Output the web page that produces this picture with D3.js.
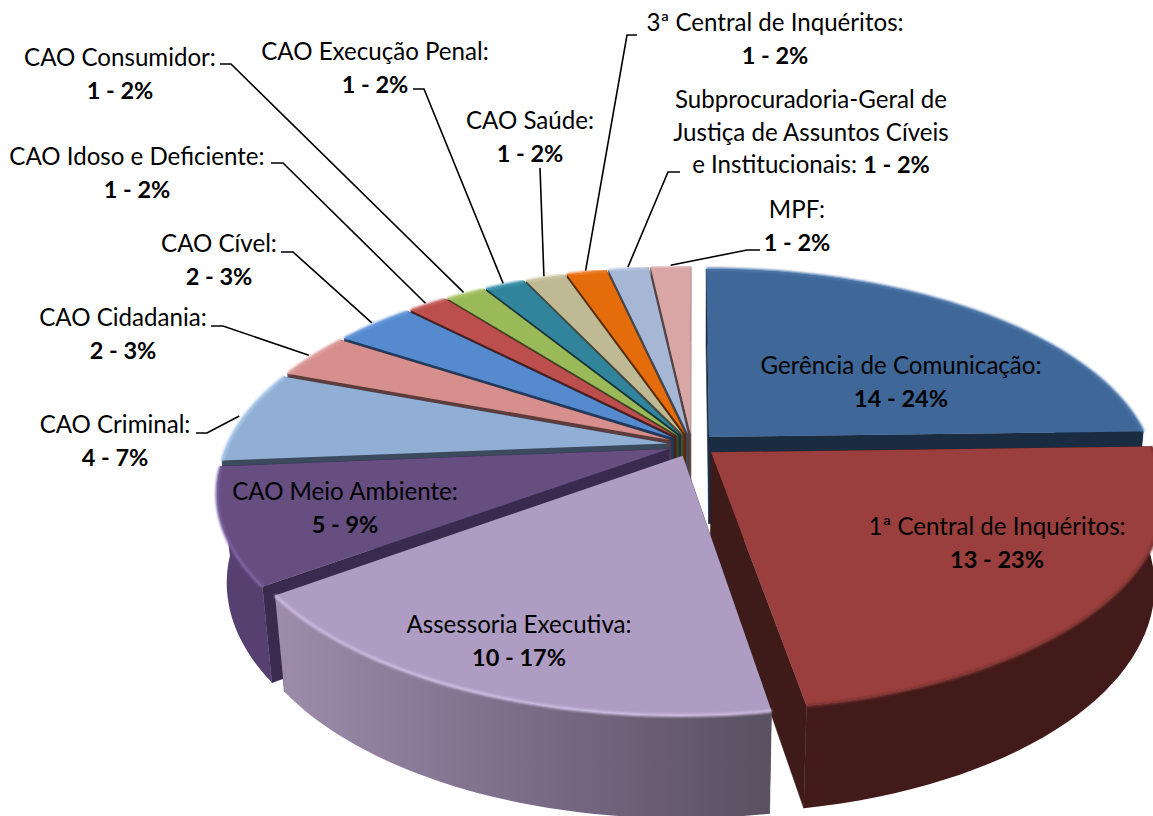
<!DOCTYPE html>
<html><head><meta charset="utf-8">
<script src="https://cdn.jsdelivr.net/npm/d3@7/dist/d3.min.js"></script>
<style>html,body{margin:0;padding:0;background:#fff}svg{display:block}text{font-family:Lato,"Open Sans",sans-serif;font-size:24.1px;fill:#000}</style>
</head><body><svg id="c" width="1153" height="816"></svg>
<script>
const categories = ["Gerência de Comunicação:","1ª Central de Inquéritos:","Assessoria Executiva:","CAO Meio Ambiente:","CAO Criminal:","CAO Cidadania:","CAO Cível:","CAO Idoso e Deficiente:","CAO Consumidor:","CAO Execução Penal:","CAO Saúde:","3ª Central de Inquéritos:","Subprocuradoria-Geral de Justiça de Assuntos Cíveis e Institucionais:","MPF:"];
const counts = [14,13,10,5,4,2,2,1,1,1,1,1,1,1];
const percents = [24,23,17,9,7,3,3,2,2,2,2,2,2,2];
const topColors = ["#3F6797","#9A3F3D","#AE9CC3","#664E80","#91AFD5","#D68F8D","#558ACF","#BC4F4D","#9ABA59","#31849B","#BFBA94","#E46C0A","#A6B6D5","#D9A6A5"];
const wallColors = ["#1A2C42","#3E1A18","#4A3F55","#3A2A4E","#3B4A5D","#5E3C3C","#1F3A5F","#4A1F1E","#3D4A24","#14353E","#4D4A3B","#5B2B04","#424955","#574242"];
const outerColors = ["#1A2C42","#421A19","url(#lavWall)","#56406F","#3B4A5D","#5E3C3C","#1F3A5F","#4A1F1E","#3D4A24","#14353E","#4D4A3B","#5B2B04","#424955","#574242"];
const rimColors = ["#4F79AD","#7A3330","#CDBDE2","#7C64A2","#AECBEC","#E0A3A1","#6C9CDC","#C96664","#AECB70","#4A9BB2","#D0CBA8","#F08030","#BAC8E2","#E5BBBA"];
// label layout: first-line centre x, first-line baseline y; text lines are taken from the label lists below
const labelLines = [["Gerência de Comunicação:"],["1ª Central de Inquéritos:"],["Assessoria Executiva:"],["CAO Meio Ambiente:"],["CAO Criminal:"],["CAO Cidadania:"],["CAO Cível:"],["CAO Idoso e Deficiente:"],["CAO Consumidor:"],["CAO Execução Penal:"],["CAO Saúde:"],["3ª Central de Inquéritos:"],["Subprocuradoria-Geral de","Justiça de Assuntos Cíveis"],["MPF:"]];
const labelX = [901,997,519,345,115,123,219,137,120,375,530,775,811,797];
const labelY = [374,535,633,500,433,326,252,165,66,60,129,31,108,218];
// leader elbows: [bar start x, elbow x, y]; null = no leader
const leaderElbows = [null,null,null,null,[196,207,433],[211,223,326],[281,293,252],[271,283,163],[220,231,64],[413,424,89],[540,540,168],[637,627,35],[680,668,172],[760,747,250]];

// projection parameters of the tilted disc
const cx=692, cy=445, R=447, Ry=207, persp=.2, zPersp=.02, H=89, radius=.985, explode=.055;
const xS=d3.scaleLinear().domain([-1,1]).range([cx-R,cx+R]);
const yS=d3.scaleLinear().domain([-1,1]).range([cy+Ry,cy-Ry]);
function project(u,v,z){const w=1+persp*v+zPersp*z;return [xS(u/w),yS(v/w)+z*H/w];}

const svg=d3.select("#c");
const defs=svg.append("defs");
const lg=defs.append("linearGradient").attr("id","lavWall");
lg.append("stop").attr("offset",0).attr("stop-color","#9D8DAB");
lg.append("stop").attr("offset",.5).attr("stop-color","#7C6C88");
lg.append("stop").attr("offset",1).attr("stop-color","#595060");
defs.append("filter").attr("id","soft").attr("x","-5%").attr("y","-5%").attr("width","110%").attr("height","110%")
  .append("feGaussianBlur").attr("stdDeviation",1.2);

const arcs=d3.pie().sort(null).value(d=>d).startAngle(0).endAngle(2*Math.PI)(counts);
const line=d3.line();
const slices=arcs.map((a,i)=>{
  const mid=(a.startAngle+a.endAngle)/2, ou=explode*Math.sin(mid), ov=explode*Math.cos(mid);
  const pt=(r,t,z)=>project(ou+r*Math.sin(t),ov+r*Math.cos(t),z);
  const steps=d3.range(0,41).map(k=>a.startAngle+(a.endAngle-a.startAngle)*k/40);
  return {i,a,mid,pt,steps,v:Math.cos(mid)};
});
const order=slices.slice().sort((p,q)=>q.v-p.v);
const g=svg.append("g");
order.forEach(s=>{
  const {i,a,pt,steps}=s;
  const wall=t=>[pt(0,t,0),pt(radius,t,0),pt(radius,t,1),pt(0,t,1)];
  const sg=g.append("g");
  [a.startAngle,a.endAngle].forEach(t=>sg.append("path").attr("d",line(wall(t))+"Z").attr("fill",wallColors[i]).attr("stroke",wallColors[i]).attr("stroke-width",.5));
  const outer=steps.map(t=>pt(radius,t,0)).concat(steps.slice().reverse().map(t=>pt(radius,t,1)));
  sg.append("path").attr("d",line(outer)+"Z").attr("fill",outerColors[i]);
  const top=[pt(0,a.startAngle,0)].concat(steps.map(t=>pt(radius,t,0)));
  sg.append("path").attr("d",line(top)+"Z").attr("fill",topColors[i]);
  sg.append("path").attr("d",line(steps.map(t=>pt(radius,t,0)))).attr("fill","none").attr("stroke",rimColors[i]).attr("stroke-width",3).attr("filter","url(#soft)");
});

const lead=svg.append("g").attr("fill","none").attr("stroke","#000").attr("stroke-width",1.6);
slices.forEach(s=>{
  const e=leaderElbows[s.i]; if(!e) return;
  lead.append("path").attr("d",line([[e[0],e[2]],[e[1],e[2]],s.pt(radius+.012,s.mid,0)]));
});

const txt=svg.append("g").attr("text-anchor","middle");
const valueText=i=>counts[i]+" - "+percents[i]+"%";
categories.forEach((c,i)=>{
  const lines=labelLines[i];
  let y=labelY[i];
  lines.forEach(l=>{txt.append("text").attr("x",labelX[i]).attr("y",y).text(l);y+=32.5;});
  const t=txt.append("text").attr("x",labelX[i]).attr("y",y);
  if(i===12){t.append("tspan").text("e Institucionais: ");}
  t.append("tspan").attr("font-weight",700).attr("font-size",23.5).text(valueText(i));
});
</script></body></html>
